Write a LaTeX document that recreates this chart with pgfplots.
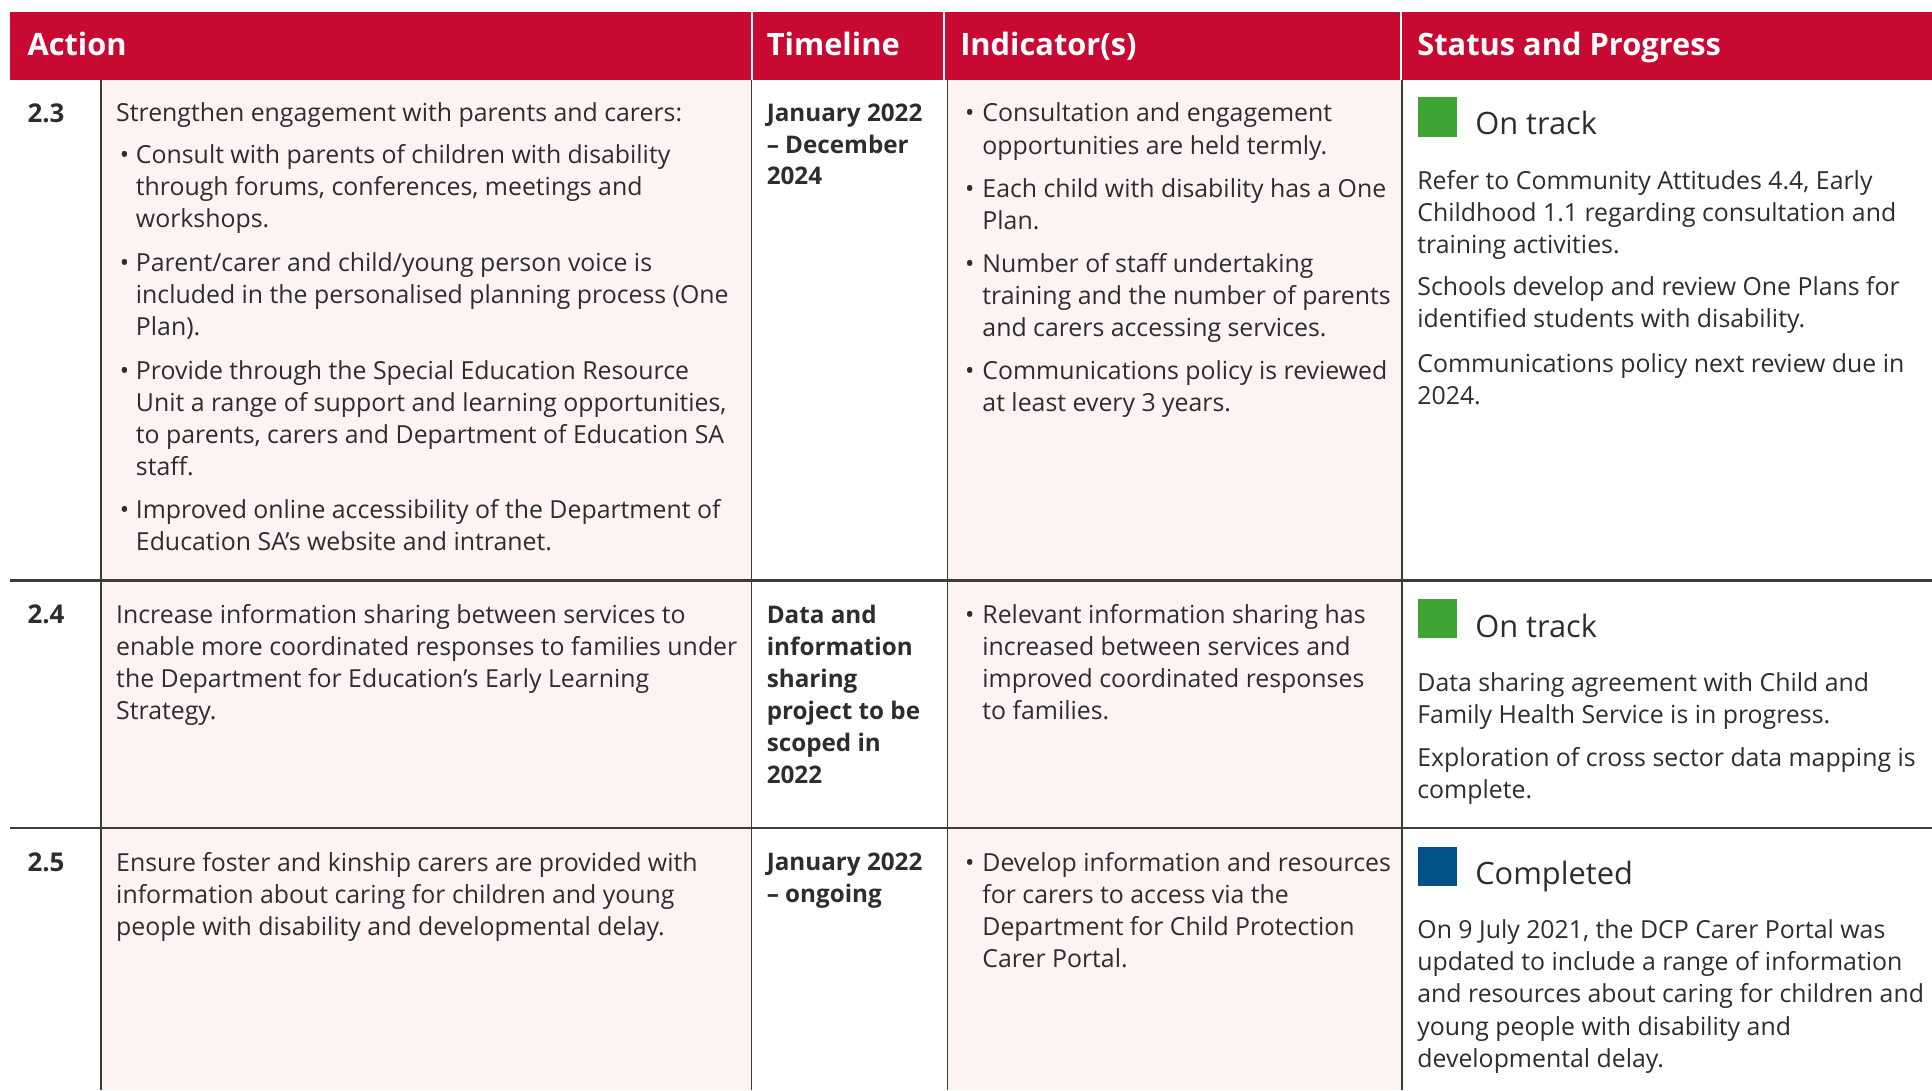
\documentclass[border=0pt]{standalone}
\usepackage{fontspec}
\setmainfont{Open Sans}
\usepackage{pgfplots}
\pgfplotsset{compat=1.18}
\definecolor{hdr}{RGB}{200,10,50}
\definecolor{pinkbg}{RGB}{253,243,242}
\definecolor{txt}{RGB}{45,45,45}
\definecolor{rulec}{RGB}{60,60,60}
\definecolor{ok}{RGB}{62,165,53}
\definecolor{done}{RGB}{0,82,136}
\newcommand\bodyfont{\fontsize{12.1bp}{14bp}\selectfont}
\newcommand\TX[3]{\node[anchor=west,inner sep=0pt,text height=8.4bp,text depth=0bp,font=\bodyfont,text=txt] at (axis cs:#1,#2) {#3};}
\newcommand\TXB[3]{\node[anchor=west,inner sep=0pt,text height=8.2bp,text depth=0bp,font=\fontsize{11.8bp}{14bp}\selectfont\bfseries,text=txt] at (axis cs:#1,#2) {#3};}
\newcommand\NUM[2]{\node[anchor=west,inner sep=0pt,text height=8.6bp,text depth=0bp,font=\fontsize{12.6bp}{14bp}\selectfont\bfseries,text=txt] at (axis cs:#1,#2) {#2};}
\newcommand\HD[2]{\node[anchor=west,inner sep=0pt,text height=10.6bp,text depth=0bp,font=\fontsize{15bp}{17bp}\selectfont\bfseries,text=white] at (axis cs:#1,36) {#2};}
\newcommand\ST[2]{\node[anchor=west,inner sep=0pt,text height=11.1bp,text depth=0bp,font=\fontsize{15bp}{18bp}\selectfont,text=txt] at (axis cs:1197,#1) {#2};}
\newcommand\BA[1]{\TX{97}{#1}{•}}
\newcommand\BI[1]{\TX{783}{#1}{•}}
\begin{document}
\begin{tikzpicture}
\begin{axis}[width=940.8bp,height=531bp,scale only axis,
  xmin=0,xmax=1568,ymin=0,ymax=885,y dir=reverse,hide axis,clip=false]
% backgrounds
\fill[pinkbg] (axis cs:82,65) rectangle (axis cs:610,885);
\fill[pinkbg] (axis cs:769,65) rectangle (axis cs:1138,885);
% header
\fill[hdr] (axis cs:8,10) rectangle (axis cs:1568,65);
\draw[white,line width=1bp] (axis cs:610,10) -- (axis cs:610,65);
\draw[white,line width=1bp] (axis cs:766,10) -- (axis cs:766,65);
\draw[white,line width=1bp] (axis cs:1137,10) -- (axis cs:1137,65);
% grid lines
\draw[rulec,line width=0.8bp] (axis cs:82,65) -- (axis cs:82,885);
\draw[rulec,line width=0.8bp] (axis cs:610,65) -- (axis cs:610,885);
\draw[rulec,line width=0.8bp] (axis cs:769,65) -- (axis cs:769,885);
\draw[rulec,line width=0.8bp] (axis cs:1138,65) -- (axis cs:1138,885);
\draw[rulec,line width=1.3bp] (axis cs:8,471) -- (axis cs:1568,471);
\draw[rulec,line width=1.3bp] (axis cs:8,672) -- (axis cs:1568,672);
% status squares
\addplot[only marks,mark=square*,mark size=9.3bp,mark options={draw=ok,fill=ok,line width=0pt}] coordinates {(1166.5,95) (1166.5,502)};
\addplot[only marks,mark=square*,mark size=9.3bp,mark options={draw=done,fill=done,line width=0pt}] coordinates {(1166.5,703)};
% header text
\HD{22}{Action}
\HD{622}{Timeline}
\HD{779}{Indicator(s)}
\HD{1150}{Status and Progress}
% row numbers
\node[anchor=west,inner sep=0pt,text height=8.6bp,text depth=0bp,font=\fontsize{12.6bp}{14bp}\selectfont\bfseries,text=txt] at (axis cs:22,92) {2.3};
\node[anchor=west,inner sep=0pt,text height=8.6bp,text depth=0bp,font=\fontsize{12.6bp}{14bp}\selectfont\bfseries,text=txt] at (axis cs:22,499) {2.4};
\node[anchor=west,inner sep=0pt,text height=8.6bp,text depth=0bp,font=\fontsize{12.6bp}{14bp}\selectfont\bfseries,text=txt] at (axis cs:22,700) {2.5};
% row 2.3 action
\TX{94}{92}{Strengthen engagement with parents and carers:}
\BA{126}\TX{110}{126}{Consult with parents of children with disability}
\TX{110}{152}{through forums, conferences, meetings and}
\TX{110}{178}{workshops.}
\BA{213}\TX{110}{213}{Parent/carer and child/young person voice is}
\TX{110}{239}{included in the personalised planning process (One}
\TX{110}{265}{Plan).}
\BA{301}\TX{110}{301}{Provide through the Special Education Resource}
\TX{110}{327}{Unit a range of support and learning opportunities,}
\TX{110}{353}{to parents, carers and Department of Education SA}
\TX{110}{379}{staff.}
\BA{414}\TX{110}{414}{Improved online accessibility of the Department of}
\TX{110}{440}{Education SA’s website and intranet.}
% row 2.3 timeline
\TXB{622}{92}{January 2022}
\TXB{622}{118}{– December}
\TXB{622}{143}{2024}
% row 2.3 indicators
\BI{92}\TX{797}{92}{Consultation and engagement}
\TX{797}{118}{opportunities are held termly.}
\BI{153}\TX{797}{153}{Each child with disability has a One}
\TX{797}{179}{Plan.}
\BI{214}\TX{797}{214}{Number of staff undertaking}
\TX{797}{240}{training and the number of parents}
\TX{797}{266}{and carers accessing services.}
\BI{301}\TX{797}{301}{Communications policy is reviewed}
\TX{797}{327}{at least every 3 years.}
% row 2.3 status
\ST{100}{On track}
\TX{1150}{147}{Refer to Community Attitudes 4.4, Early}
\TX{1150}{173}{Childhood 1.1 regarding consultation and}
\TX{1150}{199}{training activities.}
\TX{1150}{233}{Schools develop and review One Plans for}
\TX{1150}{259}{identified students with disability.}
\TX{1150}{295}{Communications policy next review due in}
\TX{1150}{321}{2024.}
% row 2.4
\TX{94}{499}{Increase information sharing between services to}
\TX{94}{525}{enable more coordinated responses to families under}
\TX{94}{551}{the Department for Education’s Early Learning}
\TX{94}{577}{Strategy.}
\TXB{622}{499}{Data and}
\TXB{622}{525}{information}
\TXB{622}{551}{sharing}
\TXB{622}{577}{project to be}
\TXB{622}{603}{scoped in}
\TXB{622}{629}{2022}
\BI{499}\TX{797}{499}{Relevant information sharing has}
\TX{797}{525}{increased between services and}
\TX{797}{551}{improved coordinated responses}
\TX{797}{577}{to families.}
\ST{508}{On track}
\TX{1150}{554}{Data sharing agreement with Child and}
\TX{1150}{580}{Family Health Service is in progress.}
\TX{1150}{615}{Exploration of cross sector data mapping is}
\TX{1150}{641}{complete.}
% row 2.5
\TX{94}{700}{Ensure foster and kinship carers are provided with}
\TX{94}{726}{information about caring for children and young}
\TX{94}{752}{people with disability and developmental delay.}
\TXB{622}{700}{January 2022}
\TXB{622}{726}{– ongoing}
\BI{700}\TX{797}{700}{Develop information and resources}
\TX{797}{726}{for carers to access via the}
\TX{797}{752}{Department for Child Protection}
\TX{797}{778}{Carer Portal.}
\ST{709}{Completed}
\TX{1150}{755}{On 9 July 2021, the DCP Carer Portal was}
\TX{1150}{781}{updated to include a range of information}
\TX{1150}{807}{and resources about caring for children and}
\TX{1150}{833}{young people with disability and}
\TX{1150}{859}{developmental delay.}
\end{axis}
\pgfresetboundingbox
\path (current axis.south west) rectangle (current axis.north east);
\end{tikzpicture}
\end{document}
